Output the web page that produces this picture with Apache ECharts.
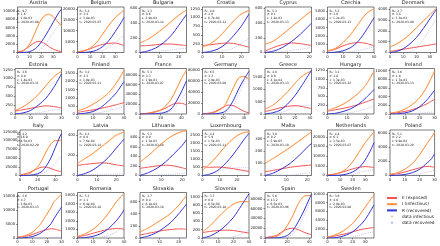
<!DOCTYPE html>
<html>
<head>
<meta charset="utf-8">
<script src="https://cdn.jsdelivr.net/npm/echarts@6/dist/echarts.min.js"></script>
<style>
  html, body { margin: 0; padding: 0; background: #fff; }
  #chart { width: 440px; height: 246px; }
</style>
</head>
<body>
<div id="chart"></div>
<script>
// panel names, in reading order
const countries = ['Austria', 'Belgium', 'Bulgaria', 'Croatia', 'Cyprus', 'Czechia', 'Denmark',
  'Estonia', 'Finland', 'France', 'Germany', 'Greece', 'Hungary', 'Ireland',
  'Italy', 'Latvia', 'Lithuania', 'Luxembourg', 'Malta', 'Netherlands', 'Poland',
  'Portugal', 'Romania', 'Slovakia', 'Slovenia', 'Spain', 'Sweden'];

const days = [
  [0, 5, 10, 15, 18, 22, 26, 30, 34, 37],
  [0, 5, 10, 15, 20, 25, 30, 35, 37],
  [0, 4, 8, 12, 16, 20, 24],
  [0, 4, 8, 12, 16, 20, 24],
  [0, 4, 8, 12, 16, 21],
  [0, 5, 10, 15, 20, 25, 30],
  [0, 5, 10, 15, 20, 25, 30, 35],
  [0, 5, 10, 15, 20, 25, 30],
  [0, 5, 10, 15, 20, 25, 30],
  [0, 10, 20, 25, 30, 35, 40, 45],
  [0, 10, 20, 25, 30, 35, 40, 45],
  [0, 5, 10, 15, 20, 25, 31],
  [0, 4, 8, 12, 16, 20, 24],
  [0, 5, 10, 15, 20, 25, 30],
  [0, 10, 20, 25, 30, 35, 40, 45, 47],
  [0, 4, 8, 12, 16, 20, 24],
  [0, 4, 8, 12, 16, 20, 22],
  [0, 4, 8, 12, 16, 20, 24, 27],
  [0, 4, 8, 12, 16, 20, 22],
  [0, 5, 10, 15, 20, 25, 30, 35, 37],
  [0, 5, 10, 15, 20, 25, 28, 30],
  [0, 5, 10, 15, 20, 23, 25, 30],
  [0, 5, 10, 15, 20, 25, 28, 30],
  [0, 4, 8, 12, 16, 20, 24],
  [0, 5, 10, 15, 20, 25, 30],
  [0, 10, 15, 20, 25, 30, 35, 40, 42],
  [0, 5, 10, 15, 20, 25, 30, 35, 37]
];

const exposed = [
  [100, 500, 1500, 2500, 2700, 2300, 1500, 800, 400, 250],
  [300, 800, 1700, 2800, 3700, 4200, 4300, 3600, 3200],
  [90, 95, 105, 115, 115, 105, 95],
  [200, 220, 250, 270, 260, 210, 150],
  [20, 70, 110, 130, 120, 95],
  [150, 400, 800, 1100, 1200, 1100, 800],
  [100, 200, 300, 400, 500, 600, 700, 800],
  [80, 120, 160, 200, 230, 210, 170],
  [100, 180, 250, 350, 450, 570, 700],
  [300, 2500, 8000, 12000, 18000, 22000, 22000, 18000],
  [300, 3000, 12000, 16000, 15000, 10000, 5000, 2000],
  [100, 170, 250, 310, 340, 300, 220],
  [80, 120, 160, 210, 270, 350, 430],
  [150, 300, 600, 1000, 1600, 2400, 3400],
  [1500, 8000, 20000, 24000, 24000, 20000, 15000, 12000, 11000],
  [100, 110, 118, 125, 120, 105, 95],
  [150, 175, 200, 215, 200, 160, 135],
  [550, 500, 520, 500, 450, 380, 300, 250],
  [30, 42, 55, 67, 76, 82, 85],
  [300, 700, 1400, 2400, 3400, 4200, 4600, 4300, 4000],
  [100, 250, 500, 800, 1100, 1300, 1250, 1150],
  [300, 600, 1200, 2200, 3000, 3300, 3200, 2500],
  [150, 300, 550, 800, 1000, 1100, 1080, 1000],
  [50, 75, 100, 125, 140, 150, 145],
  [130, 160, 180, 190, 180, 150, 120],
  [800, 5000, 12000, 18000, 20000, 17000, 12000, 8000, 7000],
  [200, 400, 700, 1000, 1400, 1800, 2100, 2300, 2350]
];

const infectious = [
  [50, 400, 2000, 5000, 7000, 8700, 9300, 8700, 7400, 6400],
  [200, 700, 2000, 4500, 8500, 12500, 16000, 18500, 19300],
  [130, 180, 250, 330, 420, 510, 580],
  [150, 250, 420, 650, 900, 1100, 1200],
  [110, 160, 250, 350, 450, 570],
  [200, 500, 1200, 2200, 3500, 4700, 5300],
  [500, 800, 1200, 1700, 2300, 2900, 3500, 4100],
  [100, 200, 350, 550, 800, 1050, 1200],
  [200, 350, 600, 900, 1300, 1900, 2700],
  [200, 1500, 8000, 17000, 30000, 50000, 72000, 90000],
  [200, 2000, 12000, 28000, 48000, 65000, 68000, 62000],
  [200, 350, 600, 900, 1250, 1550, 1760],
  [100, 180, 280, 420, 600, 850, 1230],
  [200, 500, 1100, 2200, 3800, 6400, 10000],
  [1000, 5000, 25000, 45000, 70000, 90000, 100000, 100000, 98000],
  [120, 170, 220, 280, 340, 400, 430],
  [280, 420, 580, 730, 850, 920, 935],
  [300, 700, 1150, 1650, 2100, 2450, 2650, 2680],
  [100, 140, 185, 230, 280, 330, 355],
  [200, 600, 1500, 3500, 7000, 12000, 17000, 21000, 22500],
  [200, 400, 900, 1700, 3000, 4600, 5500, 6200],
  [300, 800, 2000, 4500, 8500, 11000, 13000, 15500],
  [200, 500, 1000, 1800, 2900, 4200, 4800, 5200],
  [100, 160, 240, 320, 410, 540, 700],
  [150, 300, 500, 680, 820, 880, 880],
  [300, 3000, 10000, 25000, 45000, 70000, 85000, 87000, 85000],
  [200, 600, 1200, 2100, 3300, 5000, 7000, 9000, 9700]
];

const recovered = [
  [0, 20, 200, 900, 1800, 3400, 5300, 7300, 9300, 10500],
  [0, 50, 300, 1000, 2700, 5500, 9500, 14000, 16000],
  [0, 20, 60, 130, 230, 370, 520],
  [0, 30, 100, 250, 480, 750, 1100],
  [0, 20, 70, 150, 250, 400],
  [0, 40, 200, 600, 1400, 2700, 4200],
  [0, 100, 350, 800, 1400, 2200, 3100, 4000],
  [0, 30, 100, 250, 450, 750, 1130],
  [0, 50, 150, 400, 800, 1300, 2000],
  [0, 200, 1500, 4000, 10000, 25000, 45000, 68000],
  [0, 200, 3000, 10000, 25000, 45000, 62000, 77000],
  [0, 50, 150, 400, 750, 1200, 1780],
  [0, 20, 70, 150, 280, 470, 700],
  [0, 50, 250, 700, 1700, 3300, 5500],
  [0, 500, 5000, 12000, 28000, 50000, 80000, 110000, 120000],
  [0, 20, 55, 110, 180, 270, 360],
  [0, 60, 150, 280, 450, 630, 750],
  [0, 80, 250, 600, 1050, 1600, 2200, 2600],
  [0, 20, 55, 100, 160, 230, 260],
  [0, 50, 200, 700, 1800, 4000, 8000, 14000, 17000],
  [0, 40, 150, 400, 900, 1800, 2400, 3100],
  [0, 100, 500, 1500, 3500, 5200, 7000, 11000],
  [0, 50, 200, 500, 1100, 2000, 2700, 3300],
  [0, 30, 80, 160, 260, 400, 560],
  [0, 50, 150, 300, 500, 780, 1070],
  [0, 300, 1500, 5000, 15000, 33000, 55000, 80000, 90000],
  [0, 50, 250, 700, 1400, 2600, 4200, 6500, 7500]
];

const dataInfectious = [
  [null, 300, 1800, 4800, 6800, 8500, 9000, 8400, 7200, 6300],
  [null, 600, 1900, 4300, 8000, 12000, 15500, 18000, 19000],
  [null, 170, 240, 320, 410, 500, 570],
  [null, 230, 400, 630, 880, 1080, 1180],
  [null, 150, 240, 340, 440, 560],
  [null, 450, 1100, 2100, 3400, 4600, 5200],
  [600, 750, 1150, 1650, 2250, 2850, 3450, 4000],
  [null, 190, 340, 540, 790, 1040, 1190],
  [null, 330, 700, 1100, 1150, 1800, 2650],
  [null, 1400, 7500, 16000, 29000, 48000, 70000, 88000],
  [null, 1800, 11000, 27000, 46000, 63000, 67000, 61000],
  [null, 330, 580, 880, 1230, 1530, 1740],
  [null, 170, 270, 410, 590, 840, 1200],
  [null, 480, 1080, 2180, 3780, 6380, 9900],
  [null, 4500, 24000, 44000, 69000, 89000, 99000, 99000, 97000],
  [null, 160, 210, 270, 330, 390, 420],
  [null, 400, 560, 720, 840, 910, 930],
  [null, 650, 1100, 1600, 2050, 2400, 2600, 2650],
  [null, 135, 180, 225, 275, 325, 350],
  [null, 580, 1450, 3400, 6900, 11800, 16800, 20800, 22300],
  [null, 380, 880, 1680, 2980, 4580, 5480, 6150],
  [null, 780, 1980, 4480, 8480, 10980, 12980, 15400],
  [null, 480, 980, 1780, 2880, 4180, 4780, 5150],
  [null, 155, 235, 315, 405, 535, 690],
  [null, 290, 490, 670, 810, 870, 870],
  [null, 2800, 9500, 24000, 44000, 69000, 84000, 86000, 84000],
  [null, 580, 1180, 2080, 3280, 4980, 6980, 8980, 9650]
];

const dataRecovered = [
  [null, null, null, 100, 500, 1500, 3000, 4800, 6400, 7300],
  [null, null, null, 200, 1000, 2500, 4500, 7000, 8000],
  [null, 5, 15, 25, 35, 50, 60],
  [null, 10, 25, 60, 130, 250, 420],
  [null, 5, 15, 30, 45, 70],
  [null, null, 20, 100, 250, 450, 700],
  [null, null, null, 50, 400, 1200, 2200, 3100],
  [null, null, 10, 30, 80, 110, 130],
  [null, null, 20, 100, 200, 320, 450],
  [null, null, 500, 2000, 7000, 17000, 30000, 44000],
  [null, null, 1000, 5000, 15000, 35000, 55000, 70000],
  [null, 20, 50, 150, 330, 350, 360],
  [null, null, 15, 40, 90, 150, 230],
  [null, null, 20, 80, 180, 320, 500],
  [null, 300, 3000, 6000, 12000, 22000, 35000, 50000, 57000],
  [10, 10, 10, 12, 12, 13, 15],
  [null, 5, 10, 15, 25, 40, 50],
  [null, null, 100, 400, 450, 470, 480, 480],
  [2, 3, 4, 5, 10, 20, 25],
  [null, null, null, 200, 500, 1500, 2300, 2800, 3000],
  [null, null, 20, 100, 250, 500, 650, 800],
  [null, null, 20, 60, 120, 180, 220, 300],
  [null, null, 30, 100, 300, 700, 1100, 1200],
  [null, 2, 4, 6, 8, 10, 12],
  [null, null, null, 10, 30, 100, 190],
  [null, null, 500, 2000, 8000, 22000, 45000, 70000, 82000],
  [null, null, null, 50, 200, 600, 1000, 1300, 1400]
];

// y axis top and tick step per panel
const yTop = [11000, 20800, 620, 1300, 620, 5500, 4200, 1280, 2800, 93000, 82000, 1850, 1300, 10500,
  130000, 450, 950, 2800, 370, 23500, 6500, 16200, 5300, 750, 1100, 93000, 10300];
const yStep = [2000, 5000, 200, 250, 200, 1000, 1000, 250, 500, 20000, 20000, 500, 250, 2000,
  25000, 200, 200, 500, 100, 5000, 2000, 5000, 1000, 200, 200, 20000, 2000];
const xStep = [10, 10, 10, 10, 10, 10, 10, 10, 10, 20, 20, 10, 10, 10,
  20, 10, 10, 10, 10, 10, 10, 10, 10, 10, 10, 20, 10];

// fitted parameters shown in each panel
const params = [
  ['9.7', '1.6', '1.8e-03', '2020-03-08'], ['5.2', '3.4', '3.8e-03', '2020-03-07'],
  ['3.3', '0.6', '2.9e-04', '2020-03-14'], ['4.8', '2.0', '6.7e-04', '2020-03-12'],
  ['5.3', '0.1', '1.2e-03', '2020-03-13'], ['5.3', '3.6', '1.2e-03', '2020-03-13'],
  ['2.7', '3.4', '3.3e-03', '2020-03-09'], ['3.6', '0.8', '1.4e-03', '2020-03-11'],
  ['3.1', '1.3', '1.9e-03', '2020-03-11'], ['5.3', '3.3', '1.9e-03', '2020-03-07'],
  ['6.5', '3.2', '2.9e-03', '2020-03-08'], ['4.8', '0.8', '4.1e-04', '2020-03-13'],
  ['3.1', '1.8', '1.3e-03', '2020-03-22'], ['3.6', '1.8', '1.7e-03', '2020-03-13'],
  ['4.2', '16.9', '4.5e-03', '2020-02-29'], ['4.3', '0.8', '7.6e-04', '2020-03-14'],
  ['5.3', '0.9', '1.3e-03', '2020-03-18'], ['4.4', '5.9', '1.5e-03', '2020-03-11'],
  ['3.8', '0.2', '5.9e-05', '2020-03-10'], ['4.4', '6.1', '3.5e-03', '2020-03-07'],
  ['5.1', '2.2', '9.9e-04', '2020-03-20'], ['5.6', '4.7', '3.6e-03', '2020-03-13'],
  ['5.3', '1.1', '6.4e-04', '2020-03-18'], ['3.7', '0.4', '8.2e-04', '2020-03-18'],
  ['3.7', '0.8', '6.5e-04', '2020-03-18'], ['5.6', '13.2', '6.5e-03', '2020-03-06'],
  ['3.6', '4.6', '2.0e-03', '2020-03-08']
];

const FONT = 'DejaVu Sans';
const colLeft = [15, 77.5, 140, 202.5, 265, 327.5, 390];
const rowTop = [7, 68.5, 130, 192.5];
const W = 46.5, H = 45.5;

const RED = '#f05555', ORANGE = '#ff8f3c', BLUE = '#3333d0';
const PALE_ORANGE = '#fcc08c', PALE_BLUE = '#a9acf2';

function ticks(max, step) {
  const out = [];
  for (let v = 0; v <= max + 1e-9; v += step) out.push(v);
  return out;
}

const grid = [], xAxis = [], yAxis = [], series = [], title = [];

countries.forEach((name, i) => {
  const left = colLeft[i % 7], top = rowTop[Math.floor(i / 7)];
  const xs = days[i];
  const xMax = xs[xs.length - 1];
  grid.push({left, top, width: W, height: H, show: true, borderColor: '#222', borderWidth: 0.6,
    backgroundColor: 'transparent'});

  const xt = ticks(xMax, xStep[i]), yt = ticks(yTop[i], yStep[i]);
  const label = {fontSize: 3.8, fontFamily: FONT, color: '#222', margin: 2.5, formatter: v => String(v)};
  xAxis.push({
    gridIndex: i, type: 'value', min: 0, max: xMax,
    axisLine: {show: false}, splitLine: {show: false},
    axisTick: {show: true, length: 1.5, customValues: xt, lineStyle: {color: '#222', width: 0.5}},
    axisLabel: Object.assign({customValues: xt}, label)
  });
  yAxis.push({
    gridIndex: i, type: 'value', min: 0, max: yTop[i],
    axisLine: {show: false}, splitLine: {show: false},
    axisTick: {show: true, length: 1.5, customValues: yt, lineStyle: {color: '#222', width: 0.5}},
    axisLabel: Object.assign({customValues: yt}, label)
  });

  title.push({
    text: name, left: left + W / 2, top: top - 6.5, textAlign: 'center', padding: 0,
    textStyle: {fontSize: 5, fontWeight: 'normal', fontFamily: FONT, color: '#222'}
  });
  const p = params[i];
  title.push({
    text: `R₀: ${p[0]}\nσ: ${p[1]}\nε: ${p[2]}\nt₀: ${p[3]}`,
    left: left + 2, top: top + 2, padding: 0,
    textStyle: {fontSize: 3, lineHeight: 3.7, fontWeight: 'normal', fontFamily: FONT, color: '#222'}
  });

  const pair = arr => xs.map((x, k) => [x, arr[k]]);
  const dotted = (nm, arr, color) => ({
    name: nm, type: 'line', xAxisIndex: i, yAxisIndex: i, data: pair(arr),
    symbol: 'none', smooth: 0.3, color, z: 1, animation: false,
    lineStyle: {color, width: 1, type: [1, 1.2], opacity: 0.75}
  });
  const solid = (nm, arr, color) => ({
    name: nm, type: 'line', xAxisIndex: i, yAxisIndex: i, data: pair(arr),
    symbol: 'none', smooth: 0.3, color, z: 2, animation: false,
    lineStyle: {color, width: 1}
  });
  series.push(dotted('data infectious', dataInfectious[i], PALE_ORANGE));
  series.push(dotted('data recovered', dataRecovered[i], PALE_BLUE));
  series.push(solid('E (exposed)', exposed[i], RED));
  series.push(solid('I (infectious)', infectious[i], ORANGE));
  series.push(solid('R (recovered)', recovered[i], BLUE));
});

const chart = echarts.init(document.getElementById('chart'));
chart.setOption({
  backgroundColor: '#fff',
  animation: false,
  title, grid, xAxis, yAxis, series,
  legend: {
    orient: 'vertical', left: 386, top: 195.5, padding: 0,
    itemWidth: 10, itemHeight: 2, itemGap: 1.2,
    textStyle: {fontSize: 4.3, lineHeight: 5, fontFamily: FONT, color: '#222'},
    data: [
      {name: 'E (exposed)'}, {name: 'I (infectious)'}, {name: 'R (recovered)'},
      {name: 'data infectious', icon: 'circle'}, {name: 'data recovered', icon: 'circle'}
    ]
  }
});
</script>
</body>
</html>
